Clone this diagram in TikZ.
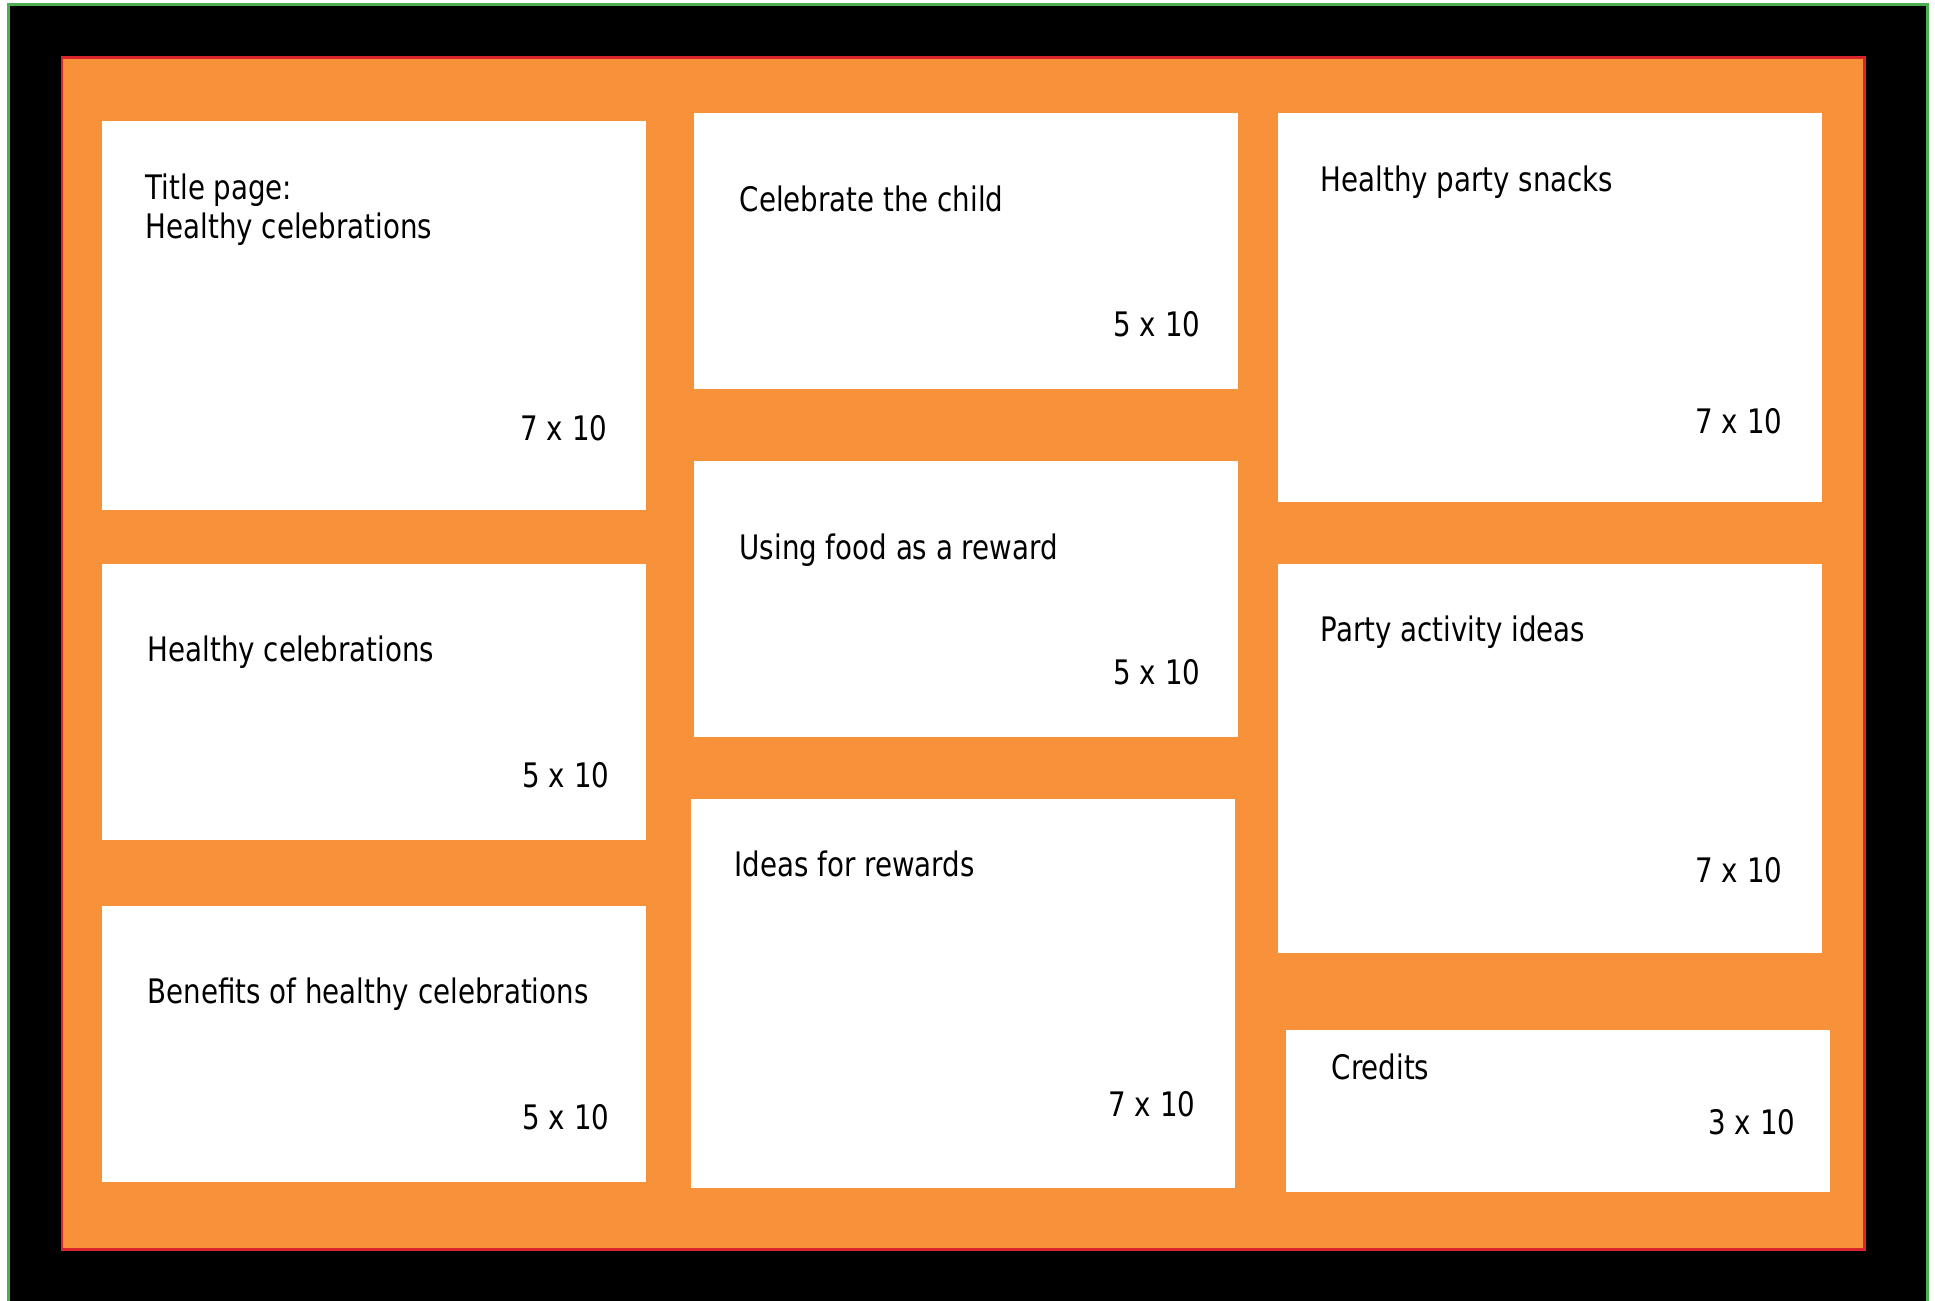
\documentclass[tikz,border=0pt]{standalone}
\usepackage{fontspec}
\setmainfont{DejaVu Sans}[FakeStretch=0.82]
\usetikzlibrary{positioning}
\definecolor{pageorange}{RGB}{247,146,59}
\definecolor{framered}{RGB}{218,37,44}
\definecolor{framegreen}{RGB}{76,175,80}

\begin{document}
\begin{tikzpicture}[x=0.01cm, y=-0.01cm,
  page/.style={fill=white},
  pagetitle/.style={anchor=base west, inner sep=0pt, align=left, font=\fontsize{9.6}{11.2}\selectfont},
  pagesize/.style={anchor=base east, inner sep=0pt, font=\fontsize{9.6}{11.2}\selectfont}]

\useasboundingbox (0,0) rectangle (1935,1301);
\fill[white] (0,0) rectangle (1935,1301);
\begin{scope}
\clip (0,0) rectangle (1935,1301);
\draw[framegreen, line width=0.85pt, fill=black] (8.5,4.5) rectangle (1927,1330);
\end{scope}
\draw[framered, line width=0.85pt, fill=pageorange] (62,57.5) rectangle (1864.5,1249.3);

% left column
\fill[page] (102,121) rectangle (646,510);
\node[pagetitle] (title) at (145,239) {Title page:\\Healthy celebrations};
\node[pagesize] (titlesize) at (608,441) {7 x 10};

\fill[page] (102,564) rectangle (646,840);
\node[pagetitle] (healthy) at (147,662) {Healthy celebrations};
\node[pagesize] (healthysize) at (610,788) {5 x 10};

\fill[page] (102,906) rectangle (646,1182);
\node[pagetitle] (benefits) at (147,1004) {Benefits of healthy celebrations};
\node[pagesize] (benefitssize) at (610,1130) {5 x 10};

% middle column
\fill[page] (694,113) rectangle (1238,389);
\node[pagetitle] (child) at (739,212) {Celebrate the child};
\node[pagesize] (childsize) at (1201,337) {5 x 10};

\fill[page] (694,461) rectangle (1238,737);
\node[pagetitle] (food) at (739,560) {Using food as a reward};
\node[pagesize] (foodsize) at (1201,685) {5 x 10};

\fill[page] (691,799) rectangle (1235,1188);
\node[pagetitle] (rewards) at (734,877) {Ideas for rewards};
\node[pagesize] (rewardssize) at (1196,1117) {7 x 10};

% right column
\fill[page] (1278,113) rectangle (1822,502);
\node[pagetitle] (snacks) at (1320,192) {Healthy party snacks};
\node[pagesize] (snackssize) at (1783,434) {7 x 10};

\fill[page] (1278,564) rectangle (1822,953);
\node[pagetitle] (activity) at (1320,642) {Party activity ideas};
\node[pagesize] (activitysize) at (1783,883) {7 x 10};

\fill[page] (1286,1030) rectangle (1830,1192);
\node[pagetitle] (credits) at (1331,1080) {Credits};
\node[pagesize] (creditssize) at (1796,1135) {3 x 10};

\end{tikzpicture}
\end{document}
